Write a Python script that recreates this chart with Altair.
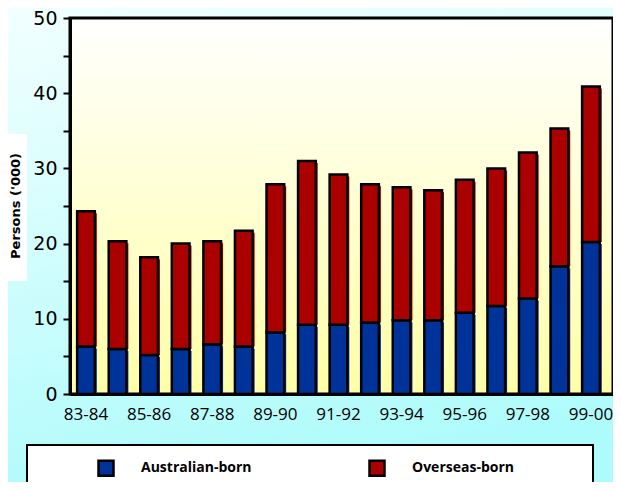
import altair as alt
import pandas as pd

years = ["83-84", "84-85", "85-86", "86-87", "87-88", "88-89", "89-90", "90-91",
         "91-92", "92-93", "93-94", "94-95", "95-96", "96-97", "97-98", "98-99", "99-00"]
australian = [6.3, 6.0, 5.2, 6.0, 6.6, 6.3, 8.2, 9.2, 9.2, 9.5, 9.8, 9.8, 10.8, 11.7, 12.7, 17.0, 20.2]
overseas = [18.0, 14.3, 13.0, 14.0, 13.7, 15.4, 19.7, 21.8, 20.0, 18.4, 17.7, 17.3, 17.7, 18.3, 19.4, 18.3, 20.7]
series = ["Australian-born", "Overseas-born"]
colors = ["#003399", "#aa0000"]
x_tick_labels = years[::2]
y_title = "Persons ('000)"

rows = []
for i, y in enumerate(years):
    rows.append({"year": y, "series": series[0], "ord": 0, "value": australian[i]})
    rows.append({"year": y, "series": series[1], "ord": 1, "value": overseas[i]})
df = pd.DataFrame(rows)

W, H = 543, 376
one = pd.DataFrame({"k": [0]})

bg = alt.Chart(one).mark_rect(
    color=alt.Gradient(gradient="linear", x1=0, y1=0, x2=0.25, y2=1,
                       stops=[alt.GradientStop(color="#f2ffff", offset=0),
                              alt.GradientStop(color="#aefbfb", offset=1)])
).encode(x=alt.value(-62), x2=alt.value(W + 10), y=alt.value(-10), y2=alt.value(H + 110))

title_box = alt.Chart(one).mark_rect(color="white").encode(
    x=alt.value(-62), x2=alt.value(-43), y=alt.value(116), y2=alt.value(263))

title_text = alt.Chart(one).mark_text(
    angle=270, font="DejaVu Sans", fontWeight="bold", fontSize=13, color="black",
    align="center", baseline="middle"
).encode(x=alt.value(-54), y=alt.value(H / 2), text=alt.value(y_title))

plot_bg = alt.Chart(one).mark_rect(
    color=alt.Gradient(gradient="linear", x1=0, y1=0, x2=0, y2=1,
                       stops=[alt.GradientStop(color="#ffffff", offset=0),
                              alt.GradientStop(color="#ffffa6", offset=1)])
).encode(x=alt.value(0), x2=alt.value(W), y=alt.value(0), y2=alt.value(H))

border = alt.Chart(one).mark_rect(fillOpacity=0, stroke="black", strokeWidth=3).encode(
    x=alt.value(0), x2=alt.value(W), y=alt.value(0), y2=alt.value(H))

legend_box = alt.Chart(one).mark_rect(fill="white", stroke="black", strokeWidth=2).encode(
    x=alt.value(-43), x2=alt.value(523), y=alt.value(427), y2=alt.value(478))

x_enc = alt.X("year:N", sort=years,
              scale=alt.Scale(paddingInner=0.44, paddingOuter=0.3225, align=0.351),
              axis=alt.Axis(values=x_tick_labels, title=None, labelAngle=0, ticks=False,
                            labelFont="Open Sans", labelFontSize=17, labelColor="black",
                            labelPadding=12, domainColor="black", domainWidth=3, zindex=1))
y_enc = alt.Y("v1:Q", scale=alt.Scale(domain=[0, 50], nice=False),
              axis=alt.Axis(values=list(range(0, 51, 5)), title=None, grid=False,
                            labelExpr="datum.value % 10 == 0 ? datum.label : ''",
                            labelFont="DejaVu Sans", labelFontSize=19, labelColor="black",
                            labelPadding=6, tickSize=7, tickWidth=2, tickColor="black",
                            domainColor="black", domainWidth=3, zindex=1))
color_enc = alt.Color("series:N", scale=alt.Scale(domain=series, range=colors),
                      legend=alt.Legend(title=None, orient="none", legendX=27, legendY=441,
                                        direction="horizontal", symbolType="square",
                                        symbolSize=225, symbolStrokeColor="black",
                                        symbolStrokeWidth=2.5, symbolOpacity=1,
                                        labelFont="Open Sans", labelFontSize=14,
                                        labelFontWeight="bold", labelColor="black",
                                        labelOffset=26, columnPadding=112, padding=0,
                                        zindex=1))

base = alt.Chart(df).transform_stack(
    stack="value", groupby=["year"], as_=["v0", "v1"], sort=[alt.SortField("ord")])

layers = []
for s, c in zip(series, colors):
    sub = base.transform_filter(alt.datum.series == s)
    shadow = sub.mark_bar(color=c, xOffset=2, yOffset=2).encode(
        x=x_enc, y=y_enc, y2="v0:Q")
    main = sub.mark_bar(stroke="black", strokeWidth=2.5).encode(
        x=x_enc, y=y_enc, y2="v0:Q", color=color_enc)
    layers += [shadow, main]

chart = alt.layer(bg, title_box, title_text, plot_bg, border, legend_box, *layers).properties(
    width=W, height=H,
    autosize=alt.AutoSizeParams(type="none"),
    padding={"left": 62, "top": 10, "right": 0, "bottom": 88},
).configure(background="#c8fcfc").configure_view(stroke=None)

chart.save("out.html", embed_options={"renderer": "svg", "actions": False})
